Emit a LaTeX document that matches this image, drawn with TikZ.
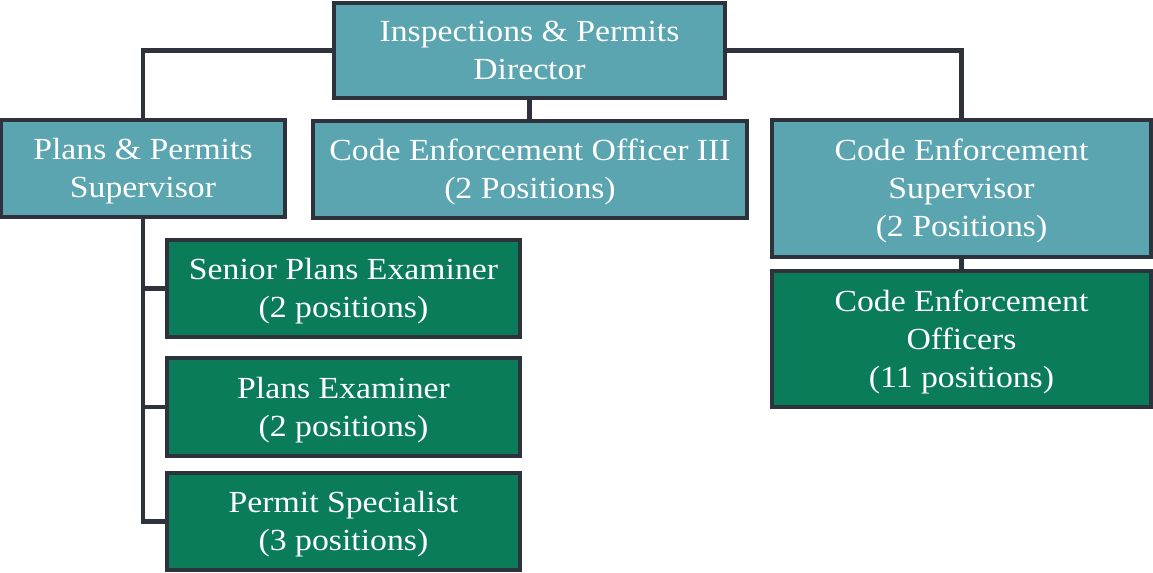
\documentclass[tikz,border=0pt]{standalone}
\usepackage{fontspec}
\setmainfont[FakeStretch=1.1]{Liberation Serif}
\definecolor{teal1}{RGB}{91,165,176}
\definecolor{green1}{RGB}{11,124,89}
\definecolor{edge1}{RGB}{45,50,60}
\tikzset{
  box/.style={draw=edge1, line width=3pt, text=white, align=center, inner sep=0pt,
    text depth=0.5pt, font=\fontsize{23}{28.5}\selectfont},
  tealbox/.style={box, fill=teal1},
  greenbox/.style={box, fill=green1},
  link/.style={draw=edge1, line width=3.6pt}
}
\begin{document}
\begin{tikzpicture}[x=0.75pt,y=-0.75pt]
\useasboundingbox (0,0) rectangle (1153,572);
\node[tealbox, minimum width=391*0.75pt, minimum height=95*0.75pt] (dir) at (529.5,50.5) {Inspections \& Permits\\Director};
\node[tealbox, minimum width=284*0.75pt, minimum height=97*0.75pt] (pps) at (143,168.5) {Plans \& Permits\\Supervisor};
\node[tealbox, minimum width=434*0.75pt, minimum height=97*0.75pt] (ceo) at (530,169) {Code Enforcement Officer III\\(2 Positions)};
\node[tealbox, minimum width=379*0.75pt, minimum height=137*0.75pt] (ces) at (961.5,188.5) {Code Enforcement\\Supervisor\\(2 Positions)};
\node[greenbox, minimum width=379*0.75pt, minimum height=136*0.75pt] (ceos) at (961.5,339) {Code Enforcement\\Officers\\(11 positions)};
\node[greenbox, minimum width=353*0.75pt, minimum height=97*0.75pt] (spe) at (343.5,288.5) {Senior Plans Examiner\\(2 positions)};
\node[greenbox, minimum width=353*0.75pt, minimum height=98*0.75pt] (pe) at (343.5,407) {Plans Examiner\\(2 positions)};
\node[greenbox, minimum width=353*0.75pt, minimum height=97*0.75pt] (ps) at (343.5,521.5) {Permit Specialist\\(3 positions)};
\draw[link] (dir.west) -| (pps.north);
\draw[link] (dir.east) -| (ces.north);
\draw[link] (dir.south) -- (dir.south |- ceo.north);
\draw[link] (ces.south) -- (ceos.north);
\draw[link] (pps.south) |- (ps.west);
\draw[link] (pps.south |- spe.west) -- (spe.west);
\draw[link] (pps.south |- pe.west) -- (pe.west);
\end{tikzpicture}
\end{document}
